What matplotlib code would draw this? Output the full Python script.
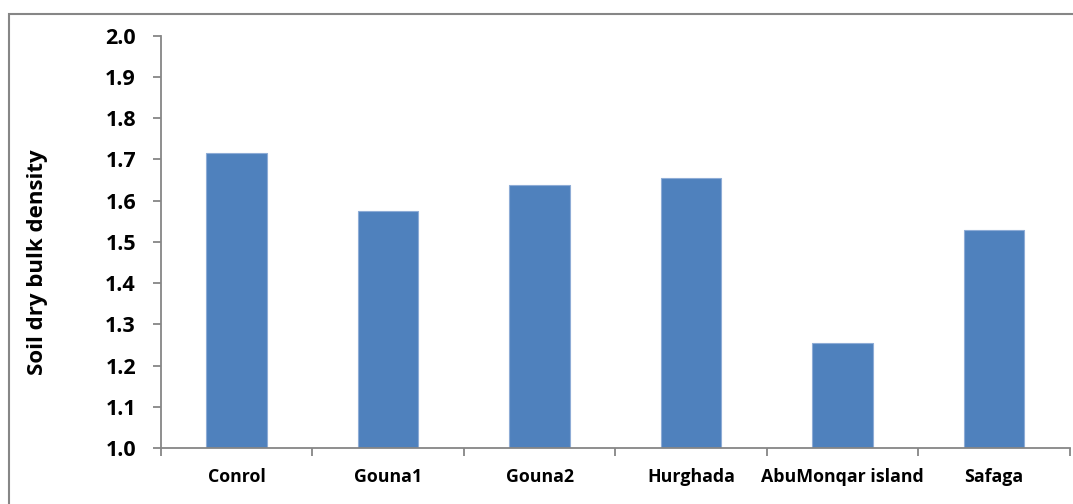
import matplotlib.pyplot as plt
from matplotlib.patches import Rectangle

sites = ["Conrol", "Gouna1", "Gouna2", "Hurghada", "AbuMonqar island", "Safaga"]
bulk_density = [1.715, 1.575, 1.638, 1.655, 1.255, 1.529]

plt.rcParams['font.family'] = ['Open Sans', 'DejaVu Sans']
grey = '#868686'

fig = plt.figure(figsize=(10.73, 5.04), dpi=100)
ax = fig.add_axes([0.150, 0.111, 0.847, 0.818])

x = range(len(sites))
ax.bar(x, bulk_density, width=0.4, color='#4F81BD', edgecolor='#8EACD6', linewidth=0.8,
       bottom=0)
ax.set_ylim(1.0, 2.0)
ax.set_xlim(-0.5, len(sites) - 0.5)
ax.set_yticks([1.0 + 0.1 * i for i in range(11)])
ax.set_yticklabels([f'{1.0 + 0.1 * i:.1f}' for i in range(11)], fontsize=15.5, fontweight='bold')
ax.set_xticks(list(x))
ax.set_xticklabels(sites, fontsize=12.8, fontweight='bold')
ax.set_xticks([i - 0.5 for i in range(len(sites) + 1)], minor=True)
ax.tick_params(axis='x', which='major', length=0, pad=14)
ax.tick_params(axis='x', which='minor', length=6, width=1.3, color=grey)
ax.tick_params(axis='y', length=6, width=1.3, color=grey, pad=12)

for s in ['top', 'right']:
    ax.spines[s].set_visible(False)
for s in ['left', 'bottom']:
    ax.spines[s].set_color(grey)
    ax.spines[s].set_linewidth(1.3)

fig.text(0.035, 0.48, 'Soil dry bulk density', rotation=90, fontsize=16, fontweight='bold',
         ha='center', va='center')

# outer chart-area border
fig.patches.append(Rectangle((9 / 1073, -0.2), 1.2, 1.2 + (504 - 14) / 504 - 1.0,
                             transform=fig.transFigure, fill=False, edgecolor=grey, linewidth=1.5))

fig.savefig('out.png', dpi=100)
